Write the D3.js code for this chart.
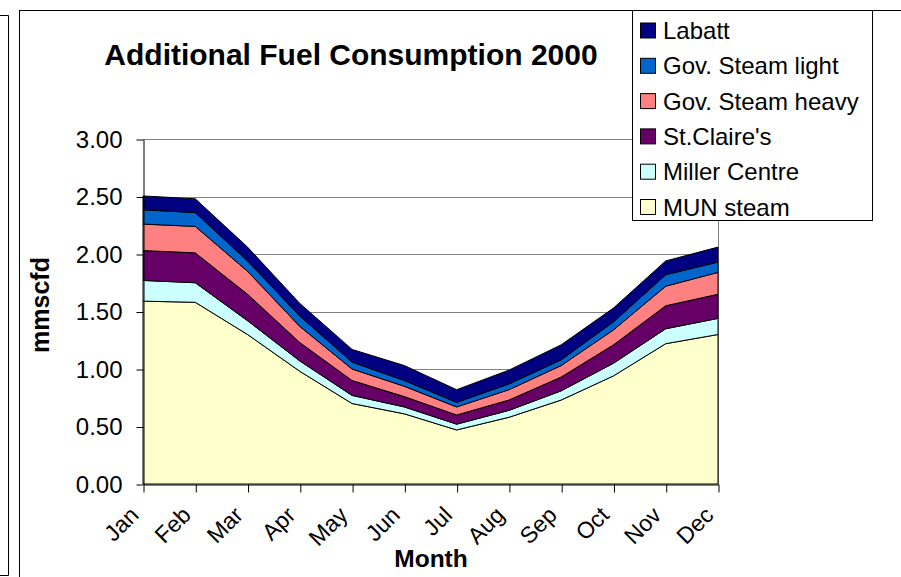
<!DOCTYPE html>
<html>
<head>
<meta charset="utf-8">
<script src="https://cdn.jsdelivr.net/npm/d3@7"></script>
<style>
  body { margin: 0; background: #fff; }
  svg { display: block; font-family: Arial, "Liberation Sans", sans-serif; }
</style>
</head>
<body>
<svg id="chart" width="901" height="577"></svg>
<script>
const months = ["Jan","Feb","Mar","Apr","May","Jun","Jul","Aug","Sep","Oct","Nov","Dec"];
const seriesNames = ["MUN steam","Miller Centre","St.Claire's","Gov. Steam heavy","Gov. Steam light","Labatt"];
const munSteam      = [1.59,1.58,1.30,0.98,0.70,0.61,0.47,0.58,0.73,0.94,1.22,1.30];
const millerCentre  = [0.18,0.17,0.12,0.09,0.07,0.06,0.05,0.06,0.08,0.11,0.13,0.14];
const stClaires     = [0.26,0.26,0.23,0.16,0.13,0.09,0.08,0.09,0.12,0.16,0.20,0.21];
const govHeavy      = [0.23,0.23,0.20,0.14,0.10,0.09,0.07,0.09,0.10,0.13,0.17,0.19];
const govLight      = [0.125,0.12,0.09,0.09,0.06,0.05,0.04,0.05,0.05,0.07,0.10,0.09];
const labatt        = [0.12,0.12,0.12,0.11,0.11,0.13,0.11,0.12,0.13,0.12,0.12,0.13];
const yTicks = [0,0.5,1,1.5,2,2.5,3];
const colors = ["#FFFFCC","#CCFFFF","#660066","#FF8080","#0066CC","#000080"];

const seriesValues = [munSteam, millerCentre, stClaires, govHeavy, govLight, labatt];
const table = months.map((m, i) => {
  const row = { month: m };
  seriesNames.forEach((s, j) => row[s] = seriesValues[j][i]);
  return row;
});

const FONT = "Arial, 'Liberation Sans', sans-serif";
const svg = d3.select("#chart");

// outer frames
svg.append("path").attr("d", "M0,15.5H8.5V575.5H0").attr("fill","none").attr("stroke","#000").attr("stroke-width",1);
svg.append("rect").attr("x",19.5).attr("y",10.5).attr("width",1000).attr("height",1000)
  .attr("fill","#fff").attr("stroke","#000").attr("stroke-width",1);

const pLeft = 143, pRight = 718, pTop = 139, pBottom = 484;
const x = d3.scalePoint().domain(months).range([pLeft, pRight]);
const y = d3.scaleLinear().domain([0, 3]).range([pBottom, pTop]);

// gridlines
svg.append("g").selectAll("line").data(yTicks.filter(d => d > 0)).join("line")
  .attr("x1", pLeft).attr("x2", pRight)
  .attr("y1", d => Math.round(y(d)) + 0.5).attr("y2", d => Math.round(y(d)) + 0.5)
  .attr("stroke", "#808080").attr("stroke-width", 1);
// plot right border
svg.append("line").attr("x1", pRight + 0.5).attr("x2", pRight + 0.5).attr("y1", pTop).attr("y2", pBottom)
  .attr("stroke", "#808080");

const stack = d3.stack().keys(seriesNames);
const stacked = stack(table);
const area = d3.area()
  .x(d => x(d.data.month))
  .y0(d => y(d[0]))
  .y1(d => y(d[1]));

svg.append("g").selectAll("path").data(stacked).join("path")
  .attr("d", area)
  .attr("fill", (d, i) => colors[i])
  .attr("stroke", "#000")
  .attr("stroke-width", 1)
  .attr("stroke-linejoin", "round");

// axes
const yAxis = d3.axisLeft(y).tickValues(yTicks).tickFormat(d3.format(".2f")).tickSize(7).tickSizeOuter(0).tickPadding(14);
const gy = svg.append("g").attr("transform", `translate(${pLeft + 0.5},0.5)`).call(yAxis);
gy.select(".domain").attr("stroke", "#000");
gy.selectAll("text").attr("font-size", 24).attr("fill", "#000").attr("font-family", FONT);

const xAxis = d3.axisBottom(x).tickSize(8).tickSizeOuter(0).tickPadding(0);
const gx = svg.append("g").attr("transform", `translate(0.5,${pBottom + 0.5})`).call(xAxis);
gx.select(".domain").attr("stroke", "#000");
gx.selectAll("text")
  .attr("font-size", 23).attr("fill", "#000").attr("font-family", FONT)
  .attr("text-anchor", "end")
  .attr("x", 0).attr("y", 0).attr("dy", 0)
  .attr("transform", "translate(-4,32) rotate(-45)");

// titles
svg.append("text").attr("x", 351).attr("y", 65).attr("text-anchor", "middle")
  .attr("font-size", 30).attr("font-weight", "bold").text("Additional Fuel Consumption 2000");
svg.append("text").attr("x", 431).attr("y", 567).attr("text-anchor", "middle")
  .attr("font-size", 24.5).attr("font-weight", "bold").text("Month");
svg.append("text").attr("transform", "translate(49,305) rotate(-90)").attr("text-anchor", "middle")
  .attr("font-size", 25).attr("font-weight", "bold").text("mmscfd");

// legend
const lg = svg.append("g");
lg.append("rect").attr("x", 632.5).attr("y", 10.5).attr("width", 240).attr("height", 210)
  .attr("fill", "#fff").attr("stroke", "#000");
const legendOrder = seriesNames.map((s, i) => ({ name: s, color: colors[i] })).reverse();
const items = lg.selectAll("g.item").data(legendOrder).join("g").attr("class", "item")
  .attr("transform", (d, i) => `translate(0,${30.5 + i * 35.3})`);
items.append("rect").attr("x", 640.5).attr("y", -7.5).attr("width", 15).attr("height", 15)
  .attr("fill", d => d.color).attr("stroke", "#000");
items.append("text").attr("x", 663).attr("y", 0).attr("dy", "0.36em")
  .attr("font-size", 24).text(d => d.name);
</script>
</body>
</html>
